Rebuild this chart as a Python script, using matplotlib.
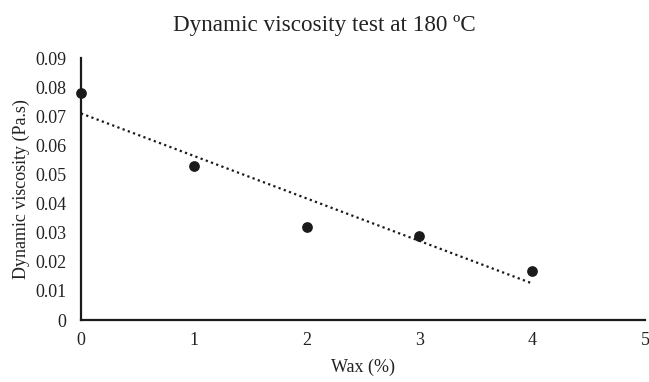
import numpy as np
import matplotlib.pyplot as plt

plt.rcParams['font.family'] = ['Liberation Serif', 'DejaVu Serif']

# data
wax = [0, 1, 2, 3, 4]
viscosity = [0.078, 0.053, 0.032, 0.029, 0.017]

# linear trendline like excel
slope, intercept = np.polyfit(wax, viscosity, 1)
trend_x = np.array([wax[0], wax[-1]])
trend_y = slope * trend_x + intercept

fig = plt.figure(figsize=(6.49, 3.82), dpi=100)
ax = fig.add_axes([0.1248, 0.162, 0.869, 0.686])

ax.scatter(wax, viscosity, s=45, color="#1a1a1a", zorder=3, clip_on=False)
ax.plot(trend_x, trend_y, color="#1a1a1a", linestyle=(0, (1, 1.5)), linewidth=1.6)

ax.set_xlim(0, 5)
ax.set_ylim(0, 0.09)
ax.set_xticks(range(0, 6))
ax.set_yticks(np.arange(0, 0.091, 0.01))
ax.set_yticklabels(["0"] + [f"{v:.2f}" for v in np.arange(0.01, 0.091, 0.01)])

for s in ["top", "right"]:
    ax.spines[s].set_visible(False)
for s in ["left", "bottom"]:
    ax.spines[s].set_linewidth(1.6)
    ax.spines[s].set_color("#1a1a1a")
ax.tick_params(axis="y", length=0, labelsize=13, colors="#222222", pad=10.5)
ax.tick_params(axis="x", length=0, labelsize=13, colors="#222222", pad=8.5)

ax.set_xlabel("Wax (%)", fontsize=13, color="#222222", labelpad=7)
ax.set_ylabel("Dynamic viscosity (Pa.s)", fontsize=13, color="#222222", labelpad=4)
fig.suptitle("Dynamic viscosity test at 180 ºC", fontsize=16.7, color="#222222", y=0.962)

fig.savefig("out.png", dpi=100)
